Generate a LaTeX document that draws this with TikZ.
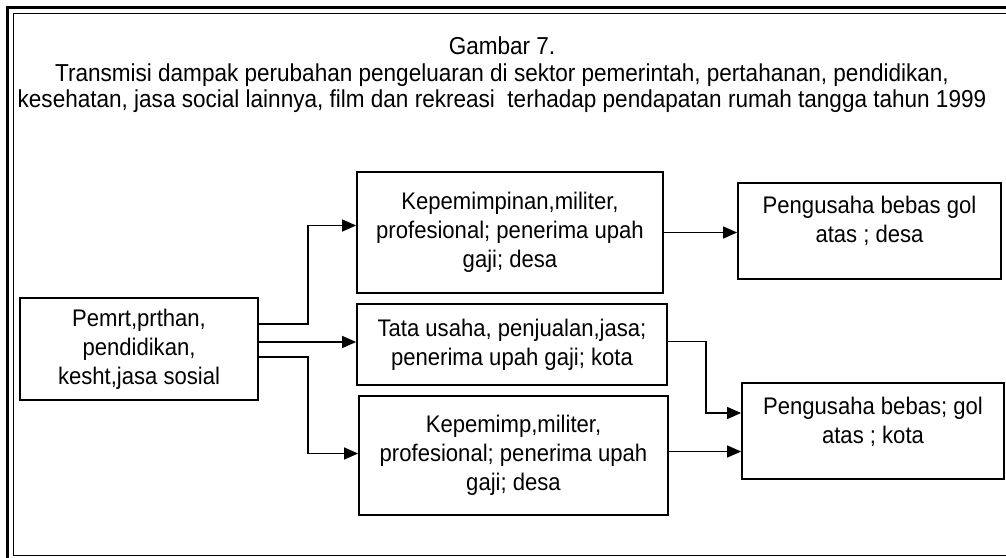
\documentclass[tikz,border=0pt]{standalone}
\usepackage{fontspec}
\setmainfont{Liberation Sans}[FakeStretch=0.92]
\usetikzlibrary{arrows.meta,positioning,calc}

\begin{document}
\begin{tikzpicture}[x=1pt,y=-1pt,line width=1.4pt,
    box/.style={draw,line width=1.8pt,inner sep=0pt,align=center,font=\fontsize{24}{29}\selectfont},
    link/.style={-{Triangle[length=14pt,width=12pt]}}]

      \useasboundingbox (0,0) rectangle (1006,557);
      \clip (0,0) rectangle (1006,557);

      % frame
      \draw[line width=3pt] (7.5,7.5) rectangle (1030,580);
      \draw[line width=1.3pt] (13.5,13.5) rectangle (1020,555.5);

      \node[align=center,font=\fontsize{24.5}{26.5}\selectfont] (title) at (502,75)
        {Gambar 7.\\Transmisi dampak perubahan pengeluaran di sektor pemerintah, pertahanan, pendidikan,\\kesehatan, jasa social lainnya, film dan rekreasi\ \ terhadap pendapatan rumah tangga tahun 1999};

      \node[box,minimum width=238pt,minimum height=102pt] (src) at (139,349)
        {Pemrt,prthan,\\pendidikan,\\kesht,jasa sosial};
      \node[box,minimum width=306pt,minimum height=121pt] (kep1) at (510,232.5)
        {Kepemimpinan,militer,\\profesional; penerima upah\\gaji; desa};
      \node[box,minimum width=310pt,minimum height=81pt] (tata) at (512,344.5)
        {Tata usaha, penjualan,jasa;\\penerima upah gaji; kota};
      \node[box,minimum width=309pt,minimum height=119pt] (kep2) at (513.5,455.5)
        {Kepemimp,militer,\\profesional; penerima upah\\gaji; desa};
      \node[box,minimum width=263pt,minimum height=96pt,text depth=24pt] (desa) at (869.5,231)
        {Pengusaha bebas gol\\atas ; desa};
      \node[box,minimum width=262pt,minimum height=96pt,text depth=22pt] (kota) at (873,431)
        {Pengusaha bebas; gol\\atas ; kota};

      \draw[link] ([yshift=25pt]src.east) -- ++(49,0) |- ([yshift=7pt]kep1.west);
      \draw[link] ([yshift=7pt]src.east) -- ([yshift=7pt]src.east -| tata.west);
      \draw[link] ([yshift=-8pt]src.east) -- ++(49,0) |- ([yshift=2pt]kep2.west);

      \draw[link] (kep1.east) -- (kep1.east -| desa.west);
      \draw[link] ([yshift=3pt]tata.east) -- ++(38,0) |- ([yshift=18pt]kota.west);
      \draw[link] ([yshift=4pt]kep2.east) -- ([yshift=4pt]kep2.east -| kota.west);

\end{tikzpicture}
\end{document}
